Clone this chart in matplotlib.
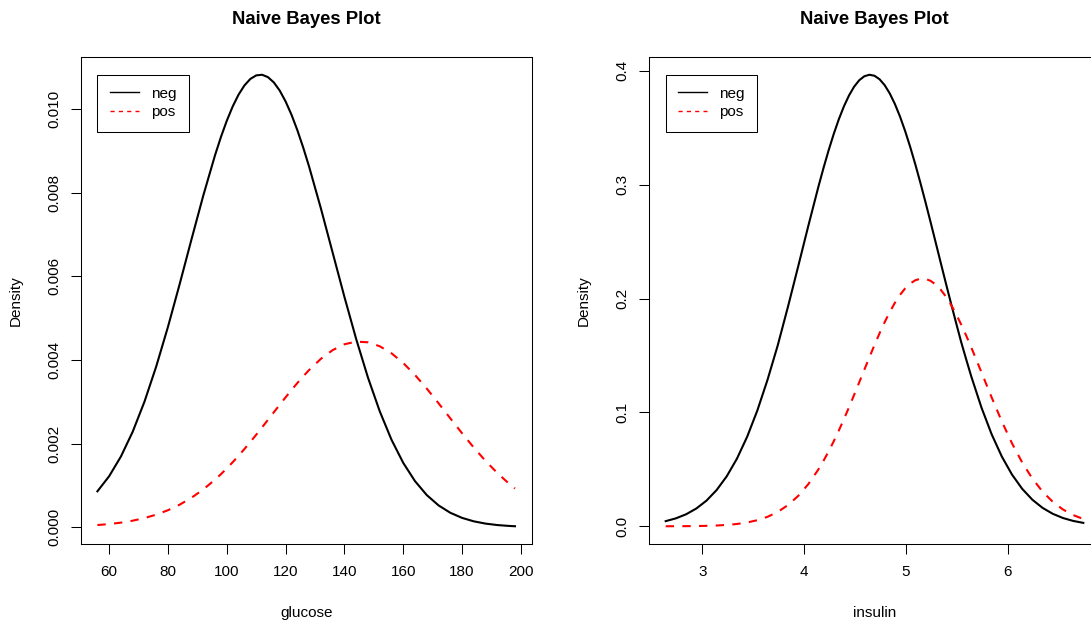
""" Naive Bayes density plots for glucose and insulin """

# imports
import matplotlib
matplotlib.use('Agg')
import matplotlib.pyplot as plt
from matplotlib.lines import Line2D

plt.rcParams['font.family'] = ['Liberation Sans', 'DejaVu Sans']

# classes
classes = ['neg', 'pos']

# glucose panel
glucose = [56, 60, 64, 68, 72, 76, 80, 84, 88, 92, 96, 98, 100, 102, 104, 106, 108, 110, 112,
	114, 116, 118, 120, 122, 124, 126, 128, 132, 136, 140, 144, 148, 152, 156, 160, 164, 168,
	172, 176, 180, 184, 188, 192, 196, 198]
glucose_neg = [0.000857, 0.001219, 0.001690, 0.002282, 0.003000, 0.003842, 0.004791, 0.005819,
	0.006883, 0.007928, 0.008894, 0.009328, 0.009718, 0.010058, 0.010342, 0.010562, 0.010717,
	0.010802, 0.010817, 0.010760, 0.010633, 0.010438, 0.010178, 0.009861, 0.009490, 0.009073,
	0.008617, 0.007620, 0.006563, 0.005505, 0.004497, 0.003577, 0.002772, 0.002091, 0.001537,
	0.001100, 0.000767, 0.000521, 0.000344, 0.000222, 0.000139, 0.0000849, 0.0000505,
	0.0000292, 0.0000220]
glucose_pos = [0.0000503, 0.0000745, 0.0001084, 0.0001549, 0.0002174, 0.0002996, 0.0004054,
	0.0005389, 0.0007037, 0.0009023, 0.0011363, 0.0012666, 0.0014054, 0.0015526, 0.0017074,
	0.0018691, 0.0020372, 0.0022101, 0.0023870, 0.0025666, 0.0027471, 0.0029274, 0.0031054,
	0.0032792, 0.0034472, 0.0036078, 0.0037587, 0.0040251, 0.0042334, 0.0043729, 0.0044364,
	0.0044205, 0.0043259, 0.0041578, 0.0039248, 0.0036388, 0.0033134, 0.0029632, 0.0026027,
	0.0022452, 0.0019023, 0.0015829, 0.0012937, 0.0010384, 0.0009241]
glucose_xticks = [60, 80, 100, 120, 140, 160, 180, 200]
glucose_yticks = [0.000, 0.002, 0.004, 0.006, 0.008, 0.010]

# insulin panel
insulin = [2.64, 2.74, 2.84, 2.94, 3.04, 3.14, 3.24, 3.34, 3.44, 3.54, 3.64, 3.74, 3.84, 3.94,
	4.04, 4.14, 4.19, 4.24, 4.29, 4.34, 4.39, 4.44, 4.49, 4.54, 4.59, 4.64, 4.69, 4.74, 4.79,
	4.84, 4.89, 4.94, 4.99, 5.04, 5.09, 5.14, 5.19, 5.24, 5.29, 5.34, 5.39, 5.44, 5.49, 5.54,
	5.59, 5.64, 5.74, 5.84, 5.94, 6.04, 6.14, 6.24, 6.34, 6.44, 6.54, 6.64, 6.74]
insulin_neg = [0.004505, 0.006963, 0.010525, 0.015561, 0.022497, 0.031813, 0.043990, 0.059488,
	0.078679, 0.101766, 0.128725, 0.158877, 0.192651, 0.227939, 0.263743, 0.298443, 0.314847,
	0.330292, 0.344573, 0.357480, 0.368798, 0.378368, 0.386032, 0.391663, 0.395168, 0.396489,
	0.395608, 0.392535, 0.387321, 0.380057, 0.370858, 0.359873, 0.347270, 0.333246, 0.318018,
	0.301798, 0.284817, 0.267294, 0.249460, 0.231520, 0.213678, 0.196116, 0.178996, 0.162101,
	0.146642, 0.131625, 0.104289, 0.080810, 0.061237, 0.045382, 0.032892, 0.023314, 0.016161,
	0.010956, 0.007264, 0.004710, 0.002986]
insulin_pos = [0.0000277, 0.0000556, 0.0001086, 0.0002063, 0.0003808, 0.0006834, 0.0011922,
	0.0020218, 0.0033334, 0.0053427, 0.0083235, 0.012609, 0.018566, 0.026578, 0.036988,
	0.050039, 0.057590, 0.065812, 0.074680, 0.084141, 0.094144, 0.104585, 0.115378, 0.126381,
	0.137461, 0.148457, 0.159209, 0.169542, 0.179262, 0.188213, 0.196220, 0.203130, 0.208802,
	0.213122, 0.215999, 0.217378, 0.217224, 0.215543, 0.212369, 0.207771, 0.201843, 0.194704,
	0.186494, 0.177374, 0.167512, 0.157087, 0.135245, 0.113198, 0.092106, 0.072856, 0.056025,
	0.041882, 0.030437, 0.021504, 0.014770, 0.009861, 0.006401]
insulin_xticks = [3, 4, 5, 6]
insulin_yticks = [0.0, 0.1, 0.2, 0.3, 0.4]


# draw one panel in R base style
def drawPanel(ax, x, neg, pos, xlabel, xticks, yticks, yfmt):
	ax.plot(x, neg, color='black', lw=1.5, solid_joinstyle='round')
	ax.plot(x, pos, color='red', lw=1.5, linestyle=(0, (4, 4)), dash_joinstyle='round')
	ax.margins(0.04)
	# ticks
	ax.set_xticks(xticks, labels=[str(t) for t in xticks])
	ax.set_yticks(yticks, labels=[yfmt.format(t) for t in yticks])
	ax.tick_params(axis='both', direction='out', length=7.2, width=0.75, labelsize=11, colors='black')
	ax.tick_params(axis='x', pad=7.8)
	ax.tick_params(axis='y', pad=6.7, labelrotation=90)
	for lab in ax.get_yticklabels():
		lab.set_va('center')
	for sp in ax.spines.values():
		sp.set_linewidth(0.75)
		sp.set_color('black')
	# labels
	ax.set_xlabel(xlabel, fontsize=11)
	ax.xaxis.set_label_coords(0.5, -0.141)
	ax.xaxis.label.set_va('center')
	ax.set_ylabel('Density', fontsize=11)
	ax.yaxis.set_label_coords(-0.1443, 0.5)
	ax.yaxis.label.set_va('center')
	ax.set_title('Naive Bayes Plot', fontsize=13.3, fontweight='bold', y=1.0768, pad=0, va='center')
	# legend
	handles = [Line2D([], [], color='black', lw=1.0),
		Line2D([], [], color='red', lw=1.0, linestyle=(0, (3, 3)))]
	leg = ax.legend(handles, classes, loc='upper left', bbox_to_anchor=(0.037, 0.9633),
		borderaxespad=0, fancybox=False, edgecolor='black', framealpha=1, fontsize=11,
		borderpad=0.8, handlelength=1.9, handletextpad=0.8, labelspacing=0.3)
	leg.get_frame().set_linewidth(0.75)


fig = plt.figure(figsize=(10.91, 6.24), dpi=100)
ax1 = fig.add_axes([0.07397, 0.12772, 0.41338, 0.78141])
ax2 = fig.add_axes([0.59487, 0.12772, 0.41338, 0.78141])

drawPanel(ax1, glucose, glucose_neg, glucose_pos, 'glucose', glucose_xticks, glucose_yticks, '{:.3f}')
drawPanel(ax2, insulin, insulin_neg, insulin_pos, 'insulin', insulin_xticks, insulin_yticks, '{:.1f}')

fig.savefig('out.png', dpi=100)
